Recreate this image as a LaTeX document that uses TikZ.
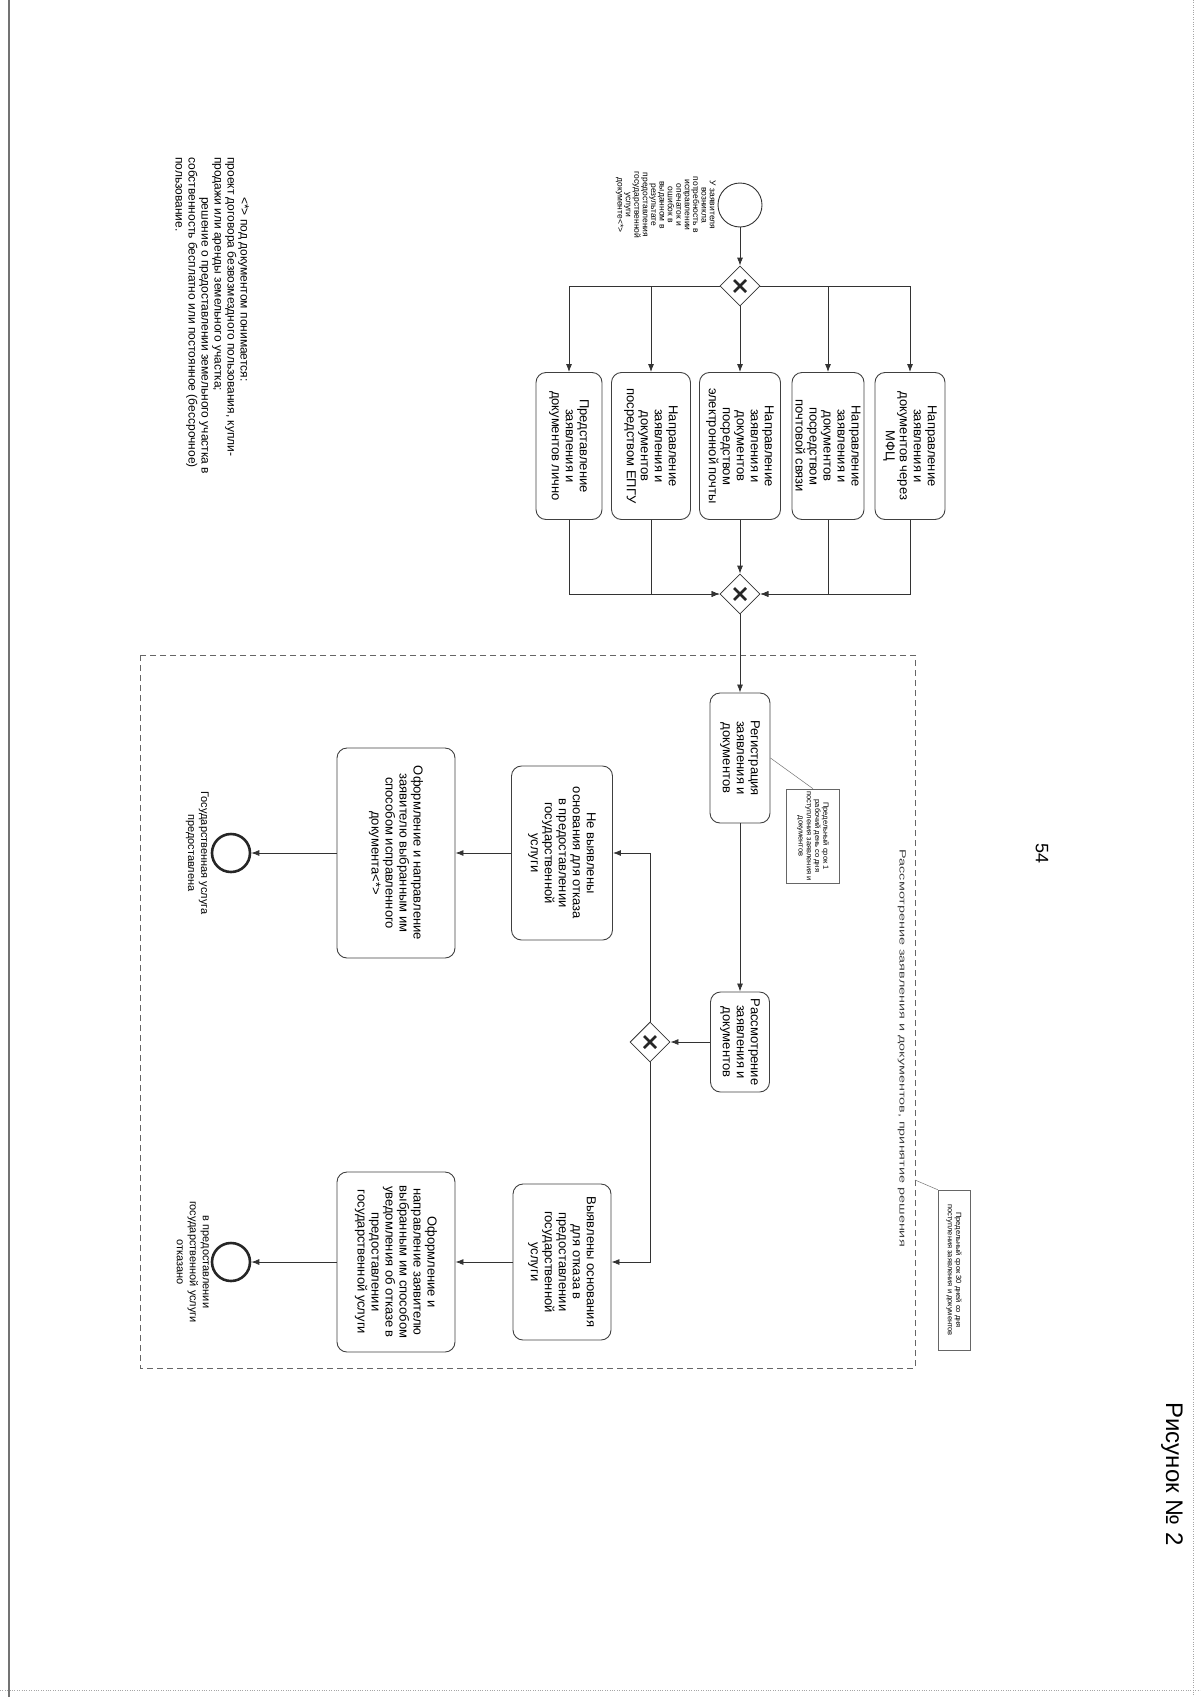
\documentclass[tikz,border=0pt]{standalone}
\usepackage{fontspec}
\setmainfont{Liberation Sans}
\usepackage{tikz}
\usetikzlibrary{shapes.geometric, arrows.meta}

\begin{document}
\begin{tikzpicture}[x=1pt, y=-1pt]
    % Définition des styles (page tournée : les textes sont pivotés de -90)
    \tikzset{
        task/.style    = {rectangle, draw=black!75, line width=0.9pt, rounded corners=10pt, rotate=-90, align=center, inner sep=1pt, font=\fontsize{13}{14}\selectfont},
        gateway/.style = {diamond, draw=black!80, line width=0.8pt, minimum size=40pt, inner sep=0pt,
                          path picture={\draw[line width=2.6pt, black!85]
                              ([shift={(-6pt,-6pt)}]path picture bounding box.center) -- ([shift={(6pt,6pt)}]path picture bounding box.center)
                              ([shift={(-6pt,6pt)}]path picture bounding box.center) -- ([shift={(6pt,-6pt)}]path picture bounding box.center);}},
        event/.style   = {circle, draw=black!80, line width=0.9pt, minimum size=44pt, inner sep=0pt},
        endevent/.style= {circle, draw=black!85, line width=2.6pt, minimum size=38pt, inner sep=0pt},
        note/.style    = {rectangle, draw=black!60, line width=0.6pt, rotate=-90, align=center, inner sep=1pt, font=\fontsize{7.5}{8.2}\selectfont},
        txt/.style     = {rotate=-90, inner sep=0pt, align=center},
        line/.style    = {draw, black!80, line width=0.8pt, -{Latex[length=8pt, width=6pt]}},
        assoc/.style   = {draw, black!55, line width=0.5pt},
        lanebox/.style = {draw, black!60, line width=0.8pt, dash pattern=on 6pt off 4pt}
    }

    \useasboundingbox (0,0) rectangle (1200,1697);

    % Bords de la page
    \draw[black!55, line width=1.2pt] (9,0) -- (9,1697);
    \draw[black!35, dotted] (1193,0) -- (1193,1697);
    \draw[black!35, dotted] (0,1690) -- (1200,1690);

    % Titre et numéro de page
    \node[txt, font=\fontsize{18}{20}\selectfont] (pagenum) at (1042,853) {54};
    \node[txt, font=\fontsize{24}{26}\selectfont] (figcap) at (1172,1474) {Рисунок № 2};

    % Début et choix du mode de dépôt
    \node [event] (start) at (740,205) {};
    \node [txt, anchor=north, font=\fontsize{8.5}{8.4}\selectfont] (startlbl) at (716,205)
        {У заявителя\\возникла\\потребность в\\исправлении\\опечаток и\\ошибок в\\выданном в\\результате\\предоставления\\государственной\\услуги\\документе<*>};
    \node [gateway] (gw1) at (740,286) {};

    \node [task, minimum width=147pt, minimum height=66pt] (lich) at (569,446) {Представление\\заявления и\\документов лично};
    \node [task, minimum width=147pt, minimum height=79pt] (epgu) at (651,446) {Направление\\заявления и\\документов\\посредством ЕПГУ};
    \node [task, minimum width=147pt, minimum height=81pt] (email) at (740,446) {Направление\\заявления и\\документов\\посредством\\электронной почты};
    \node [task, minimum width=147pt, minimum height=72pt] (post) at (828,446) {Направление\\заявления и\\документов\\посредством\\почтовой связи};
    \node [task, minimum width=147pt, minimum height=70pt] (mfc) at (910,446) {Направление\\заявления и\\документов через\\МФЦ};

    \node [gateway] (gw2) at (740,594) {};

    % Couloir : examen et décision
    \draw [lanebox] (140,655) rectangle (915,1368);
    \coordinate (lanept) at (915,1180);
    \node [txt, anchor=north east, text=black!75, font=\fontsize{9}{10}\selectfont] (lanelbl) at (906,1247)
        {\scalebox{1.6}[1]{Рассмотрение заявления и документов, принятие решения}};

    \node [task, minimum width=130pt, minimum height=60pt] (reg) at (740,758) {Регистрация\\заявления и\\документов};
    \node [note, minimum width=94pt, minimum height=53pt] (ann1) at (813,836) {Предельный срок 1\\рабочий день со дня\\поступления заявления и\\документов};
    \node [task, minimum width=100pt, minimum height=59pt] (rass) at (740,1042) {Рассмотрение\\заявления и\\документов};
    \node [gateway] (gw3) at (650,1042) {};

    \node [task, minimum width=174pt, minimum height=101pt] (nevyyav) at (562,853) {Не выявлены\\основания для отказа\\в предоставлении\\государственной\\услуги};
    \node [task, minimum width=156pt, minimum height=98pt] (vyyav) at (562,1262) {Выявлены основания\\для отказа в\\предоставлении\\государственной\\услуги};

    \node [task, minimum width=210pt, minimum height=118pt] (big1) at (396,853) {Оформление и направление\\заявителю выбранным им\\способом исправленного\\документа<*>};
    \node [task, minimum width=180pt, minimum height=118pt] (big2) at (396,1262) {Оформление и\\направление заявителю\\выбранным им способом\\уведомления об отказе в\\предоставлении\\государственной услуги};

    % Fins
    \node [endevent] (end1) at (231,853) {};
    \node [txt, anchor=north, font=\fontsize{11}{13}\selectfont] (end1lbl) at (209,853) {Государственная услуга\\предоставлена};
    \node [endevent] (end2) at (231,1262) {};
    \node [txt, anchor=north, font=\fontsize{11}{13}\selectfont] (end2lbl) at (209,1262) {в предоставлении\\государственной услуги\\отказано};

    \node [note, minimum width=160pt, minimum height=32pt] (ann2) at (954,1270) {Предельный срок 30 дней со дня\\поступления заявления и документов};

    % Note de bas de page
    \node [txt, anchor=north west, align=left, font=\fontsize{12}{13}\selectfont] (footnote) at (249,157)
        {\hspace*{40pt}<*> под документом понимается:\\
         проект договора безвозмездного пользования, купли-\\
         продажи или аренды земельного участка;\\
         \hspace*{40pt}решение о предоставлении земельного участка в\\
         собственность бесплатно или постоянное (бессрочное)\\
         пользование.};

    % Connexions
    \path [line] (start) -- (gw1);
    \path [line] (gw1.west) -| (lich.west);
    \path [line] (gw1.west) -| (epgu.west);
    \path [line] (gw1) -- (email);
    \path [line] (gw1.east) -| (post.west);
    \path [line] (gw1.east) -| (mfc.west);

    \path [line] (lich.east) |- (gw2.west);
    \path [line] (epgu.east) |- (gw2.west);
    \path [line] (email) -- (gw2);
    \path [line] (post.east) |- (gw2.east);
    \path [line] (mfc.east) |- (gw2.east);

    \path [line] (gw2) -- (reg);
    \path [line] (reg) -- (rass);
    \path [line] (rass) -- (gw3);
    \path [line] (gw3.north) |- (nevyyav.north);
    \path [line] (gw3.south) |- (vyyav.north);

    \path [line] (nevyyav) -- (big1);
    \path [line] (vyyav) -- (big2);
    \path [line] (big1) -- (end1);
    \path [line] (big2) -- (end2);

    \path [assoc] (reg.north) -- (ann1.west);
    \path [assoc] (lanept) -- (ann2.south west);
\end{tikzpicture}
\end{document}
